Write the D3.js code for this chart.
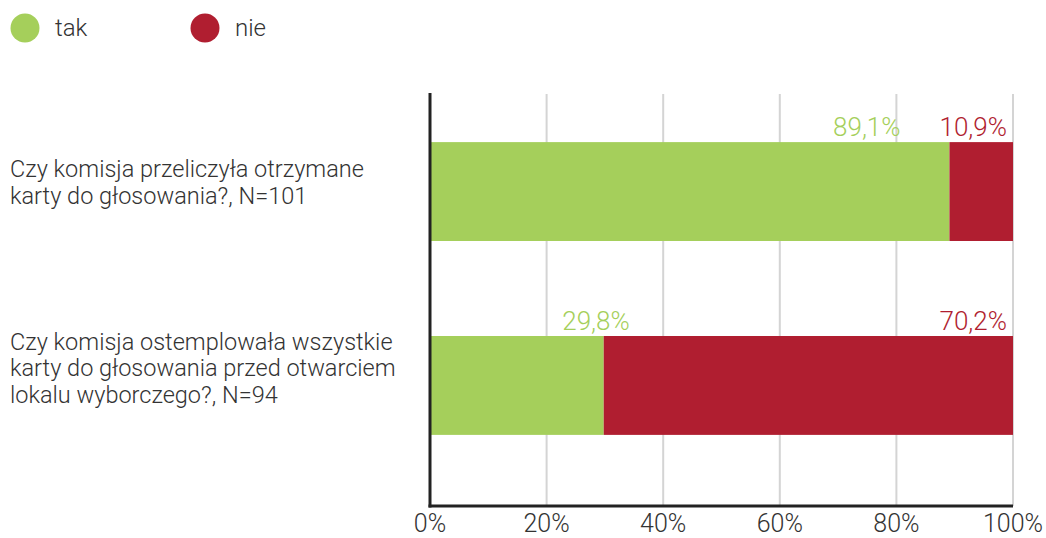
<!DOCTYPE html>
<html>
<head>
<meta charset="utf-8">
<script src="https://cdn.jsdelivr.net/npm/d3@7"></script>
<style>
  body { margin: 0; background: #fff; }
  svg text { font-family: Roboto, "Noto Sans", sans-serif; }
</style>
</head>
<body>
<svg id="chart" width="1046" height="538"></svg>
<script>
// data
const questions = [
  ["Czy komisja przeliczyła otrzymane", "karty do głosowania?, N=101"],
  ["Czy komisja ostemplowała wszystkie", "karty do głosowania przed otwarciem", "lokalu wyborczego?, N=94"]
];
const takValues = [89.1, 29.8];
const nieValues = [10.9, 70.2];
const seriesNames = ["tak", "nie"];
const seriesColors = ["#a5cf5b", "#b01e30"];
const tickValues = [0, 20, 40, 60, 80, 100];

const svg = d3.select("#chart");
const textColor = "#333";

const x = d3.scaleLinear().domain([0, 100]).range([430, 1013]);
const y = d3.scaleBand()
    .domain(d3.range(questions.length))
    .range([95, 482])
    .paddingInner(0.49)
    .paddingOuter(0.243);

const fmt = v => d3.format(".1f")(v).replace(".", ",") + "%";

// legend
const legend = svg.append("g");
seriesNames.forEach((name, i) => {
    const lx = 25 + i * 180;
    legend.append("circle")
        .attr("cx", lx).attr("cy", 28).attr("r", 14.5)
        .attr("fill", seriesColors[i]);
    legend.append("text")
        .attr("x", lx + 30).attr("y", 36)
        .attr("font-size", 24).attr("font-weight", 300)
        .attr("fill", textColor)
        .text(name);
});

// grid lines
svg.append("g").selectAll("line")
    .data(tickValues.slice(1))
    .join("line")
    .attr("x1", d => x(d)).attr("x2", d => x(d))
    .attr("y1", 94).attr("y2", 506)
    .attr("stroke", "#d4d4d4").attr("stroke-width", 2);

// bars
const rows = takValues.map((t, i) => ({ i, tak: t, nie: nieValues[i] }));

svg.append("g").selectAll("rect.tak")
    .data(rows)
    .join("rect")
    .attr("class", "tak")
    .attr("x", x(0))
    .attr("y", d => y(d.i))
    .attr("width", d => x(d.tak) - x(0))
    .attr("height", y.bandwidth())
    .attr("fill", seriesColors[0]);

svg.append("g").selectAll("rect.nie")
    .data(rows)
    .join("rect")
    .attr("class", "nie")
    .attr("x", d => x(d.tak))
    .attr("y", d => y(d.i))
    .attr("width", d => x(d.tak + d.nie) - x(d.tak))
    .attr("height", y.bandwidth())
    .attr("fill", seriesColors[1]);

// value labels
const labels = svg.append("g");
rows.forEach(d => {
    const ly = y(d.i) - 6;
    const nieLabel = labels.append("text")
        .attr("x", x(d.tak + d.nie) - 6).attr("y", ly)
        .attr("text-anchor", "end")
        .attr("font-size", 26).attr("font-weight", 300)
        .attr("fill", seriesColors[1])
        .text(fmt(d.nie));
    const nieStart = nieLabel.node().getBBox().x;
    // keep the green label clear of the red one
    const takEnd = Math.min(x(d.tak) + 26, nieStart - 39);
    labels.append("text")
        .attr("x", takEnd).attr("y", ly)
        .attr("text-anchor", "end")
        .attr("font-size", 26).attr("font-weight", 300)
        .attr("fill", seriesColors[0])
        .text(fmt(d.tak));
});

// category labels
const lh = 26.5;
questions.forEach((lines, i) => {
    const cy = y(i) + y.bandwidth() / 2;
    const first = cy + 27.5 - 21 * lines.length;
    const t = svg.append("text")
        .attr("font-size", 23.5).attr("font-weight", 300)
        .attr("fill", textColor);
    lines.forEach((line, j) => {
        t.append("tspan").attr("x", 10).attr("y", first + j * lh).text(line);
    });
});

// axes
svg.append("line")
    .attr("x1", x(0)).attr("x2", x(0))
    .attr("y1", 93).attr("y2", 507.5)
    .attr("stroke", "#222").attr("stroke-width", 3);
svg.append("line")
    .attr("x1", x(0) - 1.5).attr("x2", x(100))
    .attr("y1", 506).attr("y2", 506)
    .attr("stroke", "#222").attr("stroke-width", 3);

svg.append("g").selectAll("text")
    .data(tickValues)
    .join("text")
    .attr("x", d => x(d)).attr("y", 532)
    .attr("text-anchor", "middle")
    .attr("font-size", 25).attr("font-weight", 300)
    .attr("fill", textColor)
    .text(d => d + "%");
</script>
</body>
</html>
